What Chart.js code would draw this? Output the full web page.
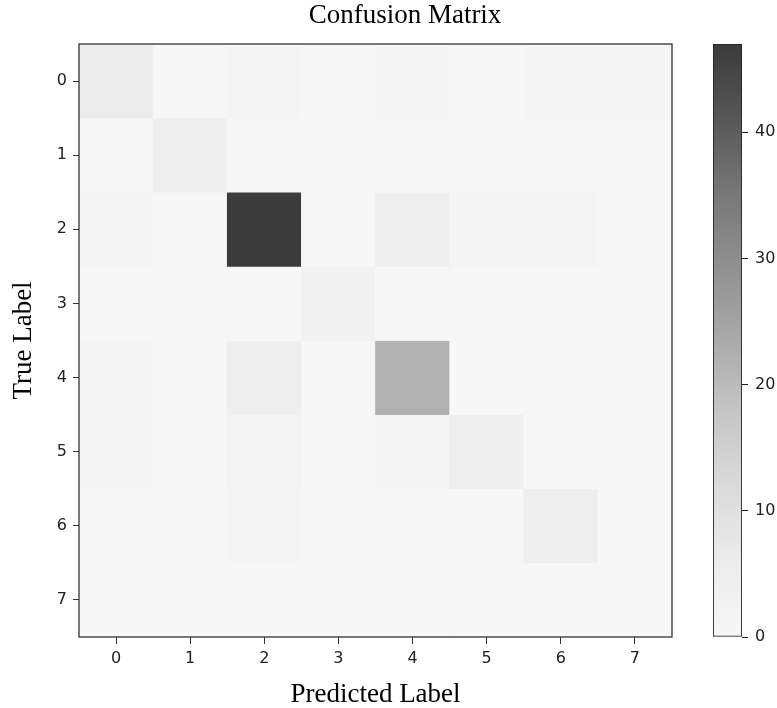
<!DOCTYPE html>
<html>
<head>
<meta charset="utf-8">
<script src="https://cdn.jsdelivr.net/npm/chart.js@4.4.1/dist/chart.umd.min.js"></script>
<style>
  html, body { margin: 0; padding: 0; background: #fff; overflow: hidden; }
  #wrap { position: relative; width: 777px; height: 708px; overflow: hidden; }
  #cm { position: absolute; left: 0; top: 0; }
  #cb { position: absolute; left: 690px; top: 0; }
</style>
</head>
<body>
<div id="wrap">
  <canvas id="cm" width="810" height="708"></canvas>
  <canvas id="cb" width="87" height="708"></canvas>
</div>
<script>
// datos de la matriz de confusion (filas = etiqueta real)
const predLabels = ['0', '1', '2', '3', '4', '5', '6', '7'];
const trueLabels = ['0', '1', '2', '3', '4', '5', '6', '7'];
const row0 = [6, 0, 1, 0, 1, 0, 1, 1];
const row1 = [0, 4, 0, 0, 0, 0, 0, 0];
const row2 = [1, 0, 47, 0, 5, 1, 1, 0];
const row3 = [0, 0, 0, 3, 0, 0, 0, 0];
const row4 = [1, 0, 5, 0, 22, 0, 0, 0];
const row5 = [1, 0, 2, 0, 1, 5, 0, 0];
const row6 = [0, 0, 1, 0, 0, 0, 5, 0];
const row7 = [0, 0, 0, 0, 0, 0, 0, 0];
const matrix = [row0, row1, row2, row3, row4, row5, row6, row7];
const vMax = 47;
const cbTicks = [0, 10, 20, 30, 40];

// escala de grises tipo "Greys", aclarada como en la imagen
const greys = [255, 240, 217, 189, 150, 115, 82, 37, 0];
function shade(v) {
    const t = Math.min(Math.max(v / vMax, 0), 1) * 8;
    const i = Math.min(Math.floor(t), 7);
    const g = greys[i] + (greys[i + 1] - greys[i]) * (t - i);
    const L = Math.round(59 + g * 188 / 255);
    return 'rgb(' + L + ',' + L + ',' + L + ')';
}

const serif = "'Liberation Serif', 'Times New Roman', serif";
const sans = "'DejaVu Sans', sans-serif";

// marco alrededor del area de la grafica
const frame = {
    id: 'frame',
    afterDatasetsDraw(chart) {
        const { ctx, chartArea: a } = chart;
        ctx.save();
        ctx.strokeStyle = '#333';
        ctx.lineWidth = 1.3;
        ctx.strokeRect(a.left, a.top, a.right - a.left, a.bottom - a.top);
        ctx.restore();
    }
};

/**
 * matriz de confusion
 */
const ctx_cm = document.getElementById('cm').getContext('2d');
const chart_cm = new Chart(ctx_cm, {
    type: 'bar',
    data: {
        labels: predLabels,
        datasets: matrix.map((row, r) => ({
            label: trueLabels[r],
            data: row.map(() => [r - 0.5, r + 0.5]),
            backgroundColor: row.map(shade),
            borderWidth: 0,
            barPercentage: 1,
            categoryPercentage: 1,
            grouped: false,
            yAxisID: 'y'
        }))
    },
    options: {
        responsive: false,
        animation: false,
        layout: { padding: 0 },
        plugins: {
            legend: { display: false },
            tooltip: { enabled: false },
            title: {
                display: true,
                text: 'Confusion Matrix',
                color: '#000',
                font: { family: serif, size: 27, weight: 'normal', lineHeight: 1 },
                padding: { top: 2.4, bottom: 14.6 }
            }
        },
        scales: {
            x: {
                ticks: { color: '#222', padding: 5, font: { family: sans, size: 16 } },
                grid: { drawOnChartArea: false, offset: false, tickLength: 7, color: '#333' },
                border: { display: false },
                title: {
                    display: true,
                    text: 'Predicted Label',
                    color: '#000',
                    font: { family: serif, size: 27, lineHeight: 1 },
                    padding: { top: 0, bottom: 0 }
                },
                afterFit: s => { s.height = 71; }
            },
            y: {
                type: 'linear',
                reverse: true,
                min: -0.5,
                max: 7.5,
                afterBuildTicks: s => { s.ticks = trueLabels.map((_, i) => ({ value: i })); },
                ticks: {
                    color: '#222',
                    padding: 6,
                    font: { family: sans, size: 16 },
                    callback: v => trueLabels[v]
                },
                grid: { drawOnChartArea: false, tickLength: 6, color: '#333' },
                border: { display: false },
                title: {
                    display: true,
                    text: 'True Label',
                    color: '#000',
                    font: { family: serif, size: 27, lineHeight: 1 },
                    padding: { top: 10, bottom: 0 }
                },
                afterFit: s => { s.width = 79; }
            },
            espacio: {
                type: 'linear',
                position: 'right',
                ticks: { display: false },
                grid: { display: false },
                border: { display: false },
                afterFit: s => { s.width = 138; }
            }
        }
    },
    plugins: [frame]
});

/**
 * barra de color
 */
const ctx_cb = document.getElementById('cb').getContext('2d');
const chart_cb = new Chart(ctx_cb, {
    type: 'bar',
    data: {
        labels: [''],
        datasets: [{
            data: [[0, vMax]],
            backgroundColor: c => {
                const a = c.chart.chartArea;
                if (!a) return '#ccc';
                const g = c.chart.ctx.createLinearGradient(0, a.bottom, 0, a.top);
                for (let i = 0; i <= 40; i++) g.addColorStop(i / 40, shade(vMax * i / 40));
                return g;
            },
            borderColor: '#222',
            borderWidth: 1.2,
            borderSkipped: false,
            barPercentage: 1,
            categoryPercentage: 1
        }]
    },
    options: {
        responsive: false,
        animation: false,
        layout: { padding: { left: 23, top: 44, bottom: 71, right: 0 } },
        plugins: { legend: { display: false }, tooltip: { enabled: false } },
        scales: {
            x: { display: false },
            y: {
                position: 'right',
                min: 0,
                max: vMax,
                afterBuildTicks: s => { s.ticks = cbTicks.map(v => ({ value: v })); },
                ticks: { color: '#222', padding: 7, font: { family: sans, size: 16 } },
                grid: { drawOnChartArea: false, tickLength: 6, color: '#222' },
                border: { display: false },
                afterFit: s => { s.width = 35; }
            }
        }
    }
});
</script>
</body>
</html>
